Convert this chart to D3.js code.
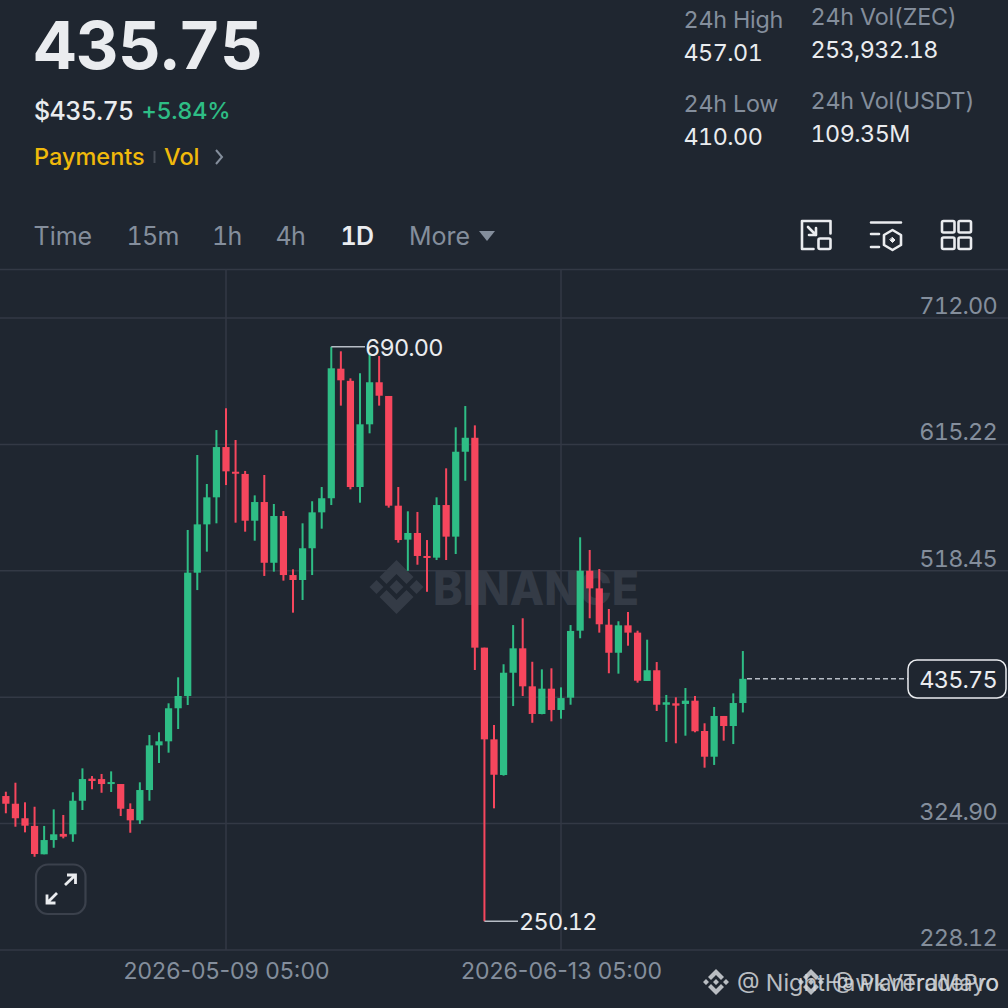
<!DOCTYPE html>
<html>
<head>
<meta charset="utf-8">
<script src="https://cdn.jsdelivr.net/npm/d3@7"></script>
<style>
  html, body { margin: 0; padding: 0; background: #1f2630; }
  svg { display: block; }
  text { font-family: Inter, "Noto Sans", sans-serif; font-variant-numeric: tabular-nums; }
</style>
</head>
<body>
<div id="chart"></div>
<script>
// one entry per daily candle, first one is just off the left edge
var opens = [354.4,346.0,340.1,329.0,323.1,301.4,312.3,317.0,316.7,342.4,359.3,359.0,355.2,355.2,336.1,327.4,350.6,384.8,387.9,413.2,422.6,517.0,554.0,574.7,613.2,594.3,592.6,556.8,571.1,524.6,560.4,515.2,511.4,535.7,563.2,574.0,673.2,663.9,582.6,630.6,662.8,652.3,568.3,542.3,547.4,529.8,528.5,568.8,544.6,609.6,620.3,459.6,389.4,362.1,440.4,459.1,430.0,408.8,428.2,411.9,421.3,472.6,518.5,505.0,477.2,455.7,476.7,471.1,434.1,442.3,415.9,417.0,416.5,419.0,395.8,376.1,407.3,399.6,417.2];
var highs = [354.4,349.3,356.2,341.2,337.8,323.1,335.8,331.5,348.9,367.2,361.3,362.9,364.9,355.2,340.4,356.5,392.7,394.8,417.0,436.9,549.7,607.1,584.9,626.2,642.9,618.6,594.9,576.2,591.8,569.6,564.2,519.6,554.8,571.7,582.6,690.0,686.5,665.8,669.7,685.2,682.9,652.3,582.6,564.0,563.5,542.0,574.7,596.9,628.3,644.6,629.8,459.6,400.4,446.9,476.9,482.1,448.8,443.0,443.8,429.2,476.9,544.1,534.4,519.8,489.2,479.8,486.9,472.6,465.7,448.6,423.4,421.6,428.7,422.6,401.7,414.2,407.3,424.6,457.01];
var lows = [343.0,332.8,322.5,318.2,299.5,301.4,306.4,313.6,311.0,335.3,351.2,348.5,349.1,330.7,317.9,324.6,342.4,371.3,379.2,397.3,415.7,503.7,533.1,554.8,584.1,555.3,548.4,541.5,514.5,517.8,510.9,486.4,496.1,515.2,550.7,568.8,644.9,580.8,570.6,623.7,644.9,566.8,540.0,518.5,523.1,502.4,526.7,526.7,531.3,587.4,442.5,250.12,336.6,361.6,414.9,422.6,402.1,408.6,403.2,405.2,415.9,466.8,482.1,471.1,440.0,439.7,461.1,432.8,434.1,411.1,387.4,386.4,392.2,394.8,367.7,369.8,388.4,385.8,410.0];
var closes = [346.3,340.1,329.0,323.3,301.6,312.3,316.7,314.9,342.4,359.0,357.5,355.2,356.7,336.3,327.4,350.6,384.8,387.9,413.2,422.6,517.0,554.0,574.7,613.2,594.6,592.8,556.8,571.1,524.6,560.4,515.2,511.4,535.7,563.2,574.0,673.5,664.3,582.6,630.6,662.8,652.5,568.3,542.0,547.4,529.8,528.3,568.8,544.6,609.6,620.3,459.6,389.4,362.3,440.4,459.1,430.0,408.8,428.2,411.9,421.0,472.4,518.5,505.0,477.5,455.7,476.7,471.1,434.3,442.3,415.9,417.8,415.2,419.0,395.6,376.1,407.3,399.6,417.2,435.75];

var priceGrid = [712.00, 615.22, 518.45, 421.67, 324.90, 228.12];
var priceLabels = [712.00, 615.22, 518.45, 324.90, 228.12]; // 421.67 sits under the last price tag
var dateTicks = ["2026-05-09", "2026-06-13"];
var tabs = ["Time", "15m", "1h", "4h", "1D", "More"];
var tabX = [33.5, 126.5, 212, 275.5, 340.5, 409];
var lastPrice = 435.75, maxPrice = 690.00, minPrice = 250.12;

var green = "#2ebd85", red = "#f6465d", bg = "#1f2630", gridCol = "#333945";
var gray = "#848e9c", white = "#eaecef", yellow = "#f0b90b";

var svg = d3.select("#chart").append("svg").attr("width", 1008).attr("height", 1008);
svg.append("rect").attr("width", 1008).attr("height", 1008).attr("fill", bg);

var parseDay = d3.utcParse("%Y-%m-%d");
var x = d3.scaleUtc()
  .domain(dateTicks.map(parseDay))
  .range([226, 561]);
var y = d3.scaleLinear().domain([228.12, 712]).range([950, 318]);

// first candle sits 24 days before the first date tick
var firstDay = d3.utcDay.offset(parseDay(dateTicks[0]), -24);
var candles = opens.map(function (o, i) {
  return { day: d3.utcDay.offset(firstDay, i), o: o, h: highs[i], l: lows[i], c: closes[i] };
});

function label(t, px, py, size, col, weight, anchor, tight) {
  return svg.append("text").attr("x", px).attr("y", py).attr("font-size", size)
    .attr("fill", col).attr("font-weight", weight || 400)
    .attr("text-anchor", anchor || "start")
    .style("letter-spacing", (tight || 0) + "px").text(t);
}

// header
label("435.75", 33.5, 69, 66.5, white, 700, "start", -0.6);
label("$435.75", 34, 120, 25, white, 500, "start", -0.6);
label("+5.84%", 141.5, 119, 23.5, green, 500, "start", -0.3);
label("Payments", 34, 165, 23.5, yellow, 500);
svg.append("line").attr("x1", 154.5).attr("x2", 154.5).attr("y1", 151).attr("y2", 163).attr("stroke", "#474d57").attr("stroke-width", 2);
label("Vol", 164, 165, 23.5, yellow, 500);
svg.append("path").attr("d", "M216,150 L222,157 L216,164").attr("fill", "none").attr("stroke", gray).attr("stroke-width", 2);

label("24h High", 683.5, 28, 23.3, gray, 400, "start", -0.2);
label("457.01", 683.5, 61, 23.3, white, 400, "start", -0.5);
label("24h Low", 683.5, 112, 23.3, gray, 400, "start", -0.2);
label("410.00", 683.5, 145, 23.3, white, 400, "start", -0.5);
label("24h Vol(ZEC)", 810.5, 25, 23.3, gray, 400, "start", -0.2);
label("253,932.18", 810.5, 58, 23.3, white, 400, "start", -0.6);
label("24h Vol(USDT)", 810.5, 109, 23.3, gray, 400, "start", -0.2);
label("109.35M", 810.5, 142, 23.3, white, 400, "start", -0.5);

tabs.forEach(function (t, i) {
  label(t, tabX[i], 245, 25, t === "1D" ? white : gray, t === "1D" ? 600 : 400, "start", /\d/.test(t) ? -0.7 : 0);
});
svg.append("path").attr("d", "M479,231 H495 L487,241 Z").attr("fill", gray);

// toolbar icons
var icons = svg.append("g").attr("fill", "none").attr("stroke", white).attr("stroke-width", 2.6)
  .attr("stroke-linecap", "round").attr("stroke-linejoin", "round");
icons.append("path").attr("d", "M813.5,249 H802 V221 H830.5 V233.5");
icons.append("rect").attr("x", 818.5).attr("y", 238.5).attr("width", 12).attr("height", 10.5).attr("rx", 1.5);
icons.append("path").attr("d", "M808,227 L816,235 M816,228 V235 H809");
icons.append("path").attr("d", "M871,222.5 H901 M871,234 H879 M871,247 H879");
icons.append("path").attr("d", "M892.5,230 L901,235 V245 L892.5,250 L884,245 V235 Z");
icons.append("path").attr("d", "M892.5,237.5 L895,240 L892.5,242.5 L890,240 Z").attr("fill", white).attr("stroke-width", 1);
[[942, 221], [958.5, 221], [942, 237.5], [958.5, 237.5]].forEach(function (p) {
  icons.append("rect").attr("x", p[0]).attr("y", p[1]).attr("width", 12.5).attr("height", 11.5).attr("rx", 1.5);
});

// grid
svg.append("line").attr("x1", 0).attr("x2", 1008).attr("y1", 269.5).attr("y2", 269.5).attr("stroke", gridCol).attr("stroke-width", 1.5);
svg.append("g").selectAll("line").data(priceGrid).enter().append("line")
  .attr("x1", 0).attr("x2", 1008)
  .attr("y1", function (d) { return y(d); }).attr("y2", function (d) { return y(d); })
  .attr("stroke", gridCol).attr("stroke-width", 1.5);
svg.append("g").selectAll("line").data(dateTicks).enter().append("line")
  .attr("x1", function (d) { return x(parseDay(d)); }).attr("x2", function (d) { return x(parseDay(d)); })
  .attr("y1", 269).attr("y2", 950)
  .attr("stroke", gridCol).attr("stroke-width", 1.5);

// watermark behind the candles
var logo = svg.append("g").attr("fill", "#343b46").attr("transform", "translate(396.5,587)");
logo.append("path").attr("d", "M0,-27 L17,-10 L10,-3 L0,-13 L-10,-3 L-17,-10 Z");
logo.append("path").attr("d", "M0,27 L17,10 L10,3 L0,13 L-10,3 L-17,10 Z");
logo.append("path").attr("d", "M0,-7 L7,0 L0,7 L-7,0 Z");
logo.append("path").attr("d", "M-20,-7 L-13,0 L-20,7 L-27,0 Z");
logo.append("path").attr("d", "M20,-7 L27,0 L20,7 L13,0 Z");
label("BINANCE", 433, 605, 47, "#343b46", 800).attr("textLength", 206).attr("lengthAdjust", "spacingAndGlyphs");

// candles
var g = svg.append("g").selectAll("g").data(candles).enter().append("g")
  .attr("fill", function (d) { return d.c >= d.o ? green : red; });
g.append("rect")
  .attr("x", function (d) { return x(d.day) - 1; })
  .attr("width", 2)
  .attr("y", function (d) { return y(d.h); })
  .attr("height", function (d) { return y(d.l) - y(d.h); });
g.append("rect")
  .attr("x", function (d) { return x(d.day) - 3.6; })
  .attr("width", 7.2)
  .attr("y", function (d) { return y(Math.max(d.o, d.c)); })
  .attr("height", function (d) { return Math.max(2, Math.abs(y(d.o) - y(d.c))); });

// price axis
var yAxis = d3.axisLeft(y).tickValues(priceLabels).tickSize(0).tickPadding(0)
  .tickFormat(function (d) { return d3.format(".2f")(d); });
var yG = svg.append("g").attr("transform", "translate(997,0)").call(yAxis);
yG.select(".domain").remove();
yG.selectAll("text").attr("dy", "-4.5px").attr("font-size", 23.5).attr("fill", gray)
  .style("letter-spacing", "-0.8px");

// date axis
var xAxis = d3.axisBottom(x).tickValues(dateTicks.map(parseDay)).tickSize(0).tickPadding(0)
  .tickFormat(function (d) { return d3.utcFormat("%Y-%m-%d")(d) + " 05:00"; });
var xG = svg.append("g").attr("transform", "translate(0,950)").call(xAxis);
xG.select(".domain").remove();
xG.selectAll("text").attr("y", 29).attr("dy", 0).attr("font-size", 23).attr("fill", gray)
  .style("font-variant-numeric", "normal");

// high / low callouts
var maxDay = candles[highs.indexOf(maxPrice)].day, minDay = candles[lows.indexOf(minPrice)].day;
svg.append("line").attr("x1", x(maxDay)).attr("x2", 365).attr("y1", y(maxPrice)).attr("y2", y(maxPrice)).attr("stroke", "#b7bdc6").attr("stroke-width", 1.5);
label(d3.format(".2f")(maxPrice), 365, 356, 23.5, white, 400, "start", -0.8);
svg.append("line").attr("x1", x(minDay)).attr("x2", 518).attr("y1", y(minPrice)).attr("y2", y(minPrice)).attr("stroke", "#b7bdc6").attr("stroke-width", 1.5);
label(d3.format(".2f")(minPrice), 519, 930, 23.5, white, 400, "start", -0.8);

// last price tag
svg.append("line").attr("x1", 747).attr("x2", 908).attr("y1", y(lastPrice)).attr("y2", y(lastPrice))
  .attr("stroke", "#b7bdc6").attr("stroke-width", 1.5).attr("stroke-dasharray", "5,3");
svg.append("rect").attr("x", 908).attr("y", 660).attr("width", 98).attr("height", 38).attr("rx", 9)
  .attr("fill", bg).attr("stroke", white).attr("stroke-width", 1.5);
label(d3.format(".2f")(lastPrice), 997, 688, 23.5, white, 400, "end", -0.8);

// expand button
svg.append("rect").attr("x", 36).attr("y", 864.5).attr("width", 49.5).attr("height", 49.5).attr("rx", 12)
  .attr("fill", bg).attr("stroke", "#3b414c").attr("stroke-width", 2.2);
svg.append("path").attr("d", "M65,885 L75.5,875 M67,875 H75.5 V884 M57,893 L47,903 M47,894.5 V903 H55.5")
  .attr("fill", "none").attr("stroke", white).attr("stroke-width", 2.8);

// overlapping author stamps, both run to the same right edge
function stamp(cx, name, len) {
  var s = svg.append("g").attr("fill", "#d5d8dc").attr("opacity", 0.85).attr("transform", "translate(" + cx + ",982)");
  s.append("path").attr("d", "M0,-13 L8,-5 L5,-2 L0,-7 L-5,-2 L-8,-5 Z M0,13 L8,5 L5,2 L0,7 L-5,2 L-8,5 Z M0,-3 L3,0 L0,3 L-3,0 Z M-10,-3 L-7,0 L-10,3 L-13,0 Z M10,-3 L13,0 L10,3 L7,0 Z");
  label(name, cx + 21, 991, 23, "#d5d8dc").attr("opacity", 0.85)
    .attr("textLength", len).attr("lengthAdjust", "spacingAndGlyphs");
}
stamp(716, "@ NightHawkVerdMayo", 262);
stamp(811, "@ PlanTradePro", 167);
</script>
</body>
</html>
